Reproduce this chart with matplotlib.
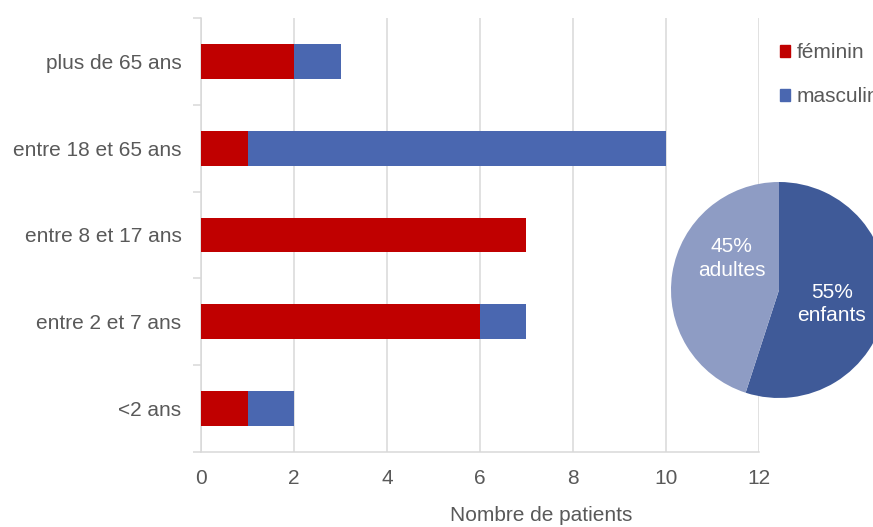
import matplotlib
matplotlib.use("Agg")
import matplotlib.pyplot as plt
from matplotlib.patches import Patch
import numpy as np

plt.rcParams['font.family'] = ['Liberation Sans', 'DejaVu Sans']

# Age groups (bottom to top) and patient counts by sex
categories = ["<2 ans", "entre 2 et 7 ans", "entre 8 et 17 ans",
              "entre 18 et 65 ans", "plus de 65 ans"]
feminin = [1, 6, 7, 1, 2]
masculin = [1, 1, 0, 9, 1]

# Share of children vs adults
pie_labels = ["enfants", "adultes"]
pie_values = [55, 45]

x_ticks = [0, 2, 4, 6, 8, 10, 12]

RED = "#C00000"
BLUE = "#4A67B0"
PIE_DARK = "#3F5A98"
PIE_LIGHT = "#8E9CC4"
TXT = "#595959"
GRID = "#D9D9D9"
FS = 15

W, H = 873, 527
fig = plt.figure(figsize=(W / 100, H / 100), dpi=100)
ax = fig.add_axes([201 / W, 1 - 452 / H, (759 - 201) / W, (452 - 18) / H])

y = np.arange(len(categories))
ax.barh(y, feminin, height=0.4, color=RED, label="féminin", zorder=3)
ax.barh(y, masculin, height=0.4, left=feminin, color=BLUE, label="masculin", zorder=3)

ax.set_xlim(0, 12)
ax.set_ylim(-0.5, len(categories) - 0.5)
ax.set_xticks(x_ticks)
ax.set_xticklabels([str(t) for t in x_ticks], fontsize=FS, color=TXT)
ax.tick_params(axis='x', length=0, pad=12)
ax.set_yticks(y)
ax.set_yticklabels(categories, fontsize=FS, color=TXT)
ax.tick_params(axis='y', which='major', length=0, pad=14)
ax.set_yticks(np.arange(-0.5, len(categories), 1.0), minor=True)
ax.tick_params(axis='y', which='minor', length=6, width=1.1, color=GRID)

ax.grid(axis='x', color=GRID, linewidth=1.1, zorder=0)
for s in ["top", "right"]:
    ax.spines[s].set_visible(False)
for s in ["left", "bottom"]:
    ax.spines[s].set_color(GRID)
    ax.spines[s].set_linewidth(1.1)

ax.set_xlabel("Nombre de patients", fontsize=FS, color=TXT)
ax.xaxis.set_label_coords((541 - 201) / (759 - 201), -(506 - 452) / (452 - 18))

# Legend
handles = [Patch(color=RED, label="féminin"), Patch(color=BLUE, label="masculin")]
fig.legend(handles=handles, loc="upper left", bbox_to_anchor=(780 / W, 1 - 43 / H),
           frameon=False, fontsize=FS, labelcolor=TXT, handlelength=0.5,
           handleheight=0.5, handletextpad=0.3, labelspacing=1.2,
           borderpad=0, borderaxespad=0)

# Inset pie
cx, cy, r = 779, 290, 108
pax = fig.add_axes([(cx - r) / W, 1 - (cy + r) / H, 2 * r / W, 2 * r / H])
pax.pie(pie_values, colors=[PIE_DARK, PIE_LIGHT], startangle=90,
        counterclock=False, wedgeprops=dict(linewidth=0))
pax.set_xlim(-1, 1)
pax.set_ylim(-1, 1)
pax.set_aspect('equal')
pax.text(0.49, -0.13, f"{pie_values[0]}%\n{pie_labels[0]}", color="white",
         fontsize=FS, ha="center", va="center", linespacing=1.3)
pax.text(-0.44, 0.29, f"{pie_values[1]}%\n{pie_labels[1]}", color="white",
         fontsize=FS, ha="center", va="center", linespacing=1.3)

fig.savefig("out.png", dpi=100)
